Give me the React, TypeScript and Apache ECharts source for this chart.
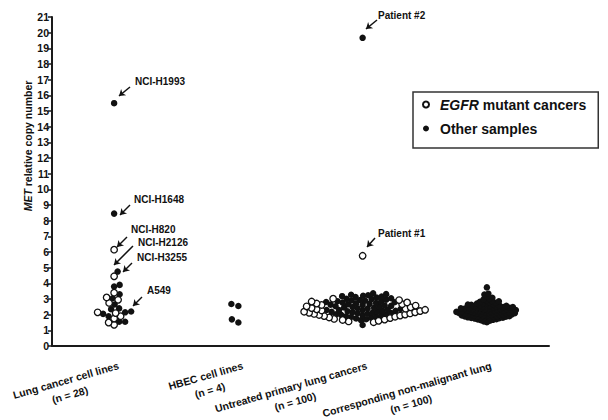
import React, { useEffect, useRef } from 'react';
import * as echarts from 'echarts';

const FONT = '"Liberation Sans", Arial, Helvetica, sans-serif';

const categories = [
  'Lung cancer cell lines',
  'HBEC cell lines',
  'Untreated primary lung cancers',
  'Corresponding non-malignant lung',
];
const categoryCounts = ['(n = 28)', '(n = 4)', '(n = 100)', '(n = 100)'];

// Lung cancer cell lines (n = 28)
const lungFilled = [15.5, 8.45, 4.75, 3.8, 3.9, 3.3, 3.05, 2.65, 2.35, 2.2, 2.05, 2.15, 2.4, 1.9, 1.55, 1.55];
const lungOpen = [6.15, 4.45, 3.4, 3.1, 2.95, 2.75, 2.15, 2.1, 1.9, 1.75, 1.5, 1.35];

// HBEC cell lines (n = 4)
const hbecFilled = [2.68, 2.55, 1.5, 1.7];

// Untreated primary lung cancers (n = 100)
const untreatedOpen = [
  5.76,
  1.52, 1.57, 1.61, 1.66, 1.69, 1.73, 1.78, 1.82, 1.87, 1.91, 1.94, 1.98,
  2.01, 2.05, 2.08, 2.12, 2.15, 2.19, 2.23, 2.27, 2.31, 2.34, 2.38, 2.42,
  2.47, 2.53, 2.58, 2.62, 2.67, 2.71, 2.78, 2.84, 2.93, 3.02,
];
const untreatedFilled = [
  19.67,
  1.34, 1.65, 1.71, 1.76, 1.81, 1.85, 1.89, 1.9, 1.93, 1.96, 1.99,
  2.0, 2.03, 2.06, 2.09, 2.1, 2.13, 2.16, 2.18, 2.2, 2.22, 2.24, 2.25, 2.28, 2.29,
  2.3, 2.33, 2.36, 2.39, 2.41, 2.44, 2.46, 2.49, 2.5, 2.54, 2.56, 2.59,
  2.61, 2.64, 2.66, 2.69, 2.72, 2.74, 2.77, 2.79, 2.81, 2.83, 2.86, 2.89,
  2.91, 2.94, 2.96, 2.99, 3.01, 3.05, 3.09, 3.12, 3.15, 3.18, 3.21, 3.24, 3.27,
  3.31, 3.36,
];

// Corresponding non-malignant lung (n = 100)
const normalFilled = [
  1.52, 1.57, 1.61, 1.64, 1.67, 1.69, 1.71, 1.73, 1.75, 1.77, 1.78, 1.79,
  1.8, 1.81, 1.83, 1.84, 1.86, 1.87, 1.88, 1.89, 1.9, 1.91, 1.93, 1.94, 1.95, 1.97, 1.98, 1.99,
  2.0, 2.01, 2.02, 2.03, 2.05, 2.06, 2.07, 2.08, 2.09, 2.09,
  2.1, 2.11, 2.12, 2.14, 2.15, 2.16, 2.17, 2.18, 2.19,
  2.2, 2.21, 2.23, 2.24, 2.25, 2.26, 2.27, 2.28, 2.29,
  2.3, 2.31, 2.32, 2.34, 2.35, 2.36, 2.37, 2.38, 2.39,
  2.4, 2.41, 2.43, 2.44, 2.46, 2.47, 2.48, 2.49,
  2.5, 2.52, 2.53, 2.55, 2.56, 2.58, 2.59,
  2.61, 2.63, 2.65, 2.67, 2.69, 2.71, 2.74, 2.76, 2.79,
  2.82, 2.85, 2.88, 2.92, 2.97, 3.03, 3.08, 3.16, 3.28, 3.34, 3.74,
];

const annotationLabels = ['NCI-H1993', 'NCI-H1648', 'NCI-H820', 'NCI-H2126', 'NCI-H3255', 'A549', 'Patient #2', 'Patient #1'];
// pixel layout of annotation texts and arrows: [textX, textY, x1, y1, x2, y2]
const annotationLayout = [
  [135, 81, 130, 87, 119, 96],
  [134, 199, 130, 205, 120, 215],
  [131, 229, 127, 237, 117, 247],
  [138, 242, 133, 246, 114, 265],
  [137, 257, 132, 263, 123, 272],
  [147, 290, 142, 297, 133, 306],
  [378, 15, 377, 20, 366, 29],
  [378, 233, 375, 238, 367, 247],
];

const W = 608;
const H = 420;
const GRID = { left: 52, right: 59, top: 17, bottom: 74 };
const Y_MAX = 21;

type Pt = { v: number; open: boolean };

function swarm(points: Pt[], cat: number, d: number, strictOpenSides = false) {
  const pxPerX = (W - GRID.left - GRID.right) / categories.length;
  const pxPerY = (H - GRID.top - GRID.bottom) / Y_MAX;
  const placed: { x: number; y: number }[] = [];
  const open: number[][] = [];
  const filled: number[][] = [];
  let openCount = 0;
  points.forEach((p, idx) => {
    const py = p.v * pxPerY;
    let dx = 0;
    const strict = strictOpenSides && p.open;
    const sideSign = strict ? (openCount % 2 === 0 ? 1 : -1) : 0;
    if (p.open) openCount++;
    for (let k = 0; k < 600; k++) {
      let cands: number[];
      if (k === 0) cands = [0];
      else if (strict) cands = [sideSign * k * 0.5];
      else cands = idx % 2 === 0 ? [k * 0.5, -k * 0.5] : [-k * 0.5, k * 0.5];
      let found = false;
      for (const c of cands) {
        let ok = true;
        for (const q of placed) {
          const ddx = c - q.x;
          const ddy = py - q.y;
          if (ddx * ddx + ddy * ddy < d * d) {
            ok = false;
            break;
          }
        }
        if (ok) {
          dx = c;
          found = true;
          break;
        }
      }
      if (found) break;
    }
    placed.push({ x: dx, y: py });
    const pt = [cat + dx / pxPerX, p.v];
    (p.open ? open : filled).push(pt);
  });
  return { open, filled };
}

function mk(vals: number[], open: boolean): Pt[] {
  return vals.map((v) => ({ v, open }));
}
const byVal = (a: Pt, b: Pt) => a.v - b.v;

export default function App() {
  const ref = useRef<HTMLDivElement>(null);
  useEffect(() => {
    document.body.style.margin = '0';
    if (!ref.current) return;
    const chart = echarts.init(ref.current, null, { renderer: 'svg' });

    const g0 = swarm([...mk(lungFilled, false), ...mk(lungOpen, true)].sort(byVal), 0, 5.6);
    const g1 = swarm(mk(hbecFilled, false).sort(byVal), 1, 7);
    const g2 = swarm(
      [...mk(untreatedFilled, false).sort(byVal), ...mk(untreatedOpen, true).sort(byVal)],
      2,
      5.0,
      true
    );
    const g3 = swarm(mk(normalFilled, false).sort(byVal), 3, 3.1);

    const filledPts = [...g0.filled, ...g1.filled, ...g2.filled, ...g3.filled];
    const openPts = [...g0.open, ...g1.open, ...g2.open, ...g3.open];

    const canvas = document.createElement('canvas');
    const ctx = canvas.getContext('2d')!;
    ctx.font = `bold 10.5px ${FONT}`;
    const rich: Record<string, any> = {};
    categories.forEach((c, i) => {
      const w = Math.max(ctx.measureText(c).width, ctx.measureText(categoryCounts[i]).width) + 1;
      rich['c' + i] = {
        width: w,
        align: 'center',
        fontSize: 10.5,
        fontWeight: 'bold',
        fontFamily: FONT,
        color: '#111',
        lineHeight: 15,
      };
    });

    const graphic: any[] = annotationLabels.map((t, i) => ({
      type: 'text',
      x: annotationLayout[i][0],
      y: annotationLayout[i][1],
      style: {
        text: t,
        fontSize: 10,
        fontWeight: 'bold',
        fontFamily: FONT,
        fill: '#111',
        verticalAlign: 'middle',
      },
    }));
    graphic.push({
      type: 'text',
      x: 28,
      y: 146,
      rotation: Math.PI / 2,
      style: {
        text: '{i|MET} relative copy number',
        fontSize: 10.5,
        fontWeight: 'bold',
        fontFamily: FONT,
        fill: '#111',
        align: 'center',
        verticalAlign: 'middle',
        rich: {
          i: { fontStyle: 'italic', fontWeight: 'bold', fontSize: 10.5, fontFamily: FONT, fill: '#111' },
        },
      },
    });

    chart.setOption({
      animation: false,
      grid: {
        left: GRID.left,
        right: GRID.right,
        top: GRID.top,
        bottom: GRID.bottom,
        containLabel: false,
        outerBoundsMode: 'none',
      },
      xAxis: [
        {
          type: 'category',
          data: categories,
          boundaryGap: true,
          axisLine: { onZero: false, lineStyle: { color: '#1a1a1a', width: 2 } },
          axisTick: { alignWithLabel: true, length: 4, lineStyle: { color: '#1a1a1a', width: 1.5 } },
          axisLabel: {
            interval: 0,
            rotate: 16,
            margin: 13,
            verticalAlign: 'top',
            padding: [0, -3, 0, 0],
            formatter: (v: string, i: number) => `{c${i}|${v}}\n{c${i}|${categoryCounts[i]}}`,
            rich,
          },
          splitLine: { show: false },
        },
        { type: 'value', min: -0.5, max: 3.5, show: false },
      ],
      yAxis: {
        type: 'value',
        min: 0,
        max: Y_MAX,
        interval: 1,
        axisLine: { show: true, onZero: false, lineStyle: { color: '#1a1a1a', width: 2 } },
        axisTick: { show: true, length: 4, lineStyle: { color: '#1a1a1a', width: 1.5 } },
        axisLabel: { fontSize: 10.5, fontWeight: 'bold', fontFamily: FONT, color: '#111', margin: 3 },
        splitLine: { show: false },
      },
      legend: {
        data: ['EGFR mutant cancers', 'Other samples'],
        orient: 'vertical',
        left: 413,
        top: 92,
        borderColor: '#333',
        borderWidth: 1.5,
        borderRadius: 0,
        padding: [4, 12, 11, 9],
        itemGap: 7,
        itemWidth: 6,
        itemHeight: 6,
        formatter: (name: string) => (name === 'EGFR mutant cancers' ? '{i|EGFR} mutant cancers' : name),
        textStyle: {
          fontSize: 14,
          fontWeight: 'bold',
          fontFamily: FONT,
          color: '#111',
          lineHeight: 17,
          padding: [0, 0, 0, 6],
          rich: {
            i: { fontStyle: 'italic', fontWeight: 'bold', fontSize: 14, fontFamily: FONT, color: '#111' },
          },
        },
      },
      series: [
        {
          name: 'Other samples',
          type: 'scatter',
          xAxisIndex: 1,
          data: filledPts,
          symbol: 'circle',
          symbolSize: 6.5,
          itemStyle: { color: '#111', opacity: 1 },
          z: 2,
          markLine: {
            silent: true,
            symbol: ['none', 'arrow'],
            symbolSize: 6,
            label: { show: false },
            lineStyle: { color: '#111', width: 1.5, type: 'solid', opacity: 1 },
            data: annotationLayout.map((a) => [
              { x: a[2], y: a[3] },
              { x: a[4], y: a[5] },
            ]),
          },
        },
        {
          name: 'EGFR mutant cancers',
          type: 'scatter',
          xAxisIndex: 1,
          data: openPts,
          symbol: 'circle',
          symbolSize: 6.5,
          itemStyle: { color: '#fff', borderColor: '#111', borderWidth: 1.3, opacity: 1 },
          z: 3,
        },
      ],
      graphic,
    });
    return () => chart.dispose();
  }, []);
  return <div ref={ref} style={{ width: W, height: H }} />;
}
